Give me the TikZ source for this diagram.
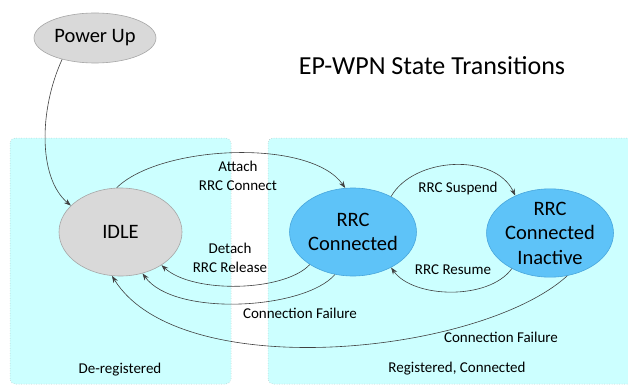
\documentclass[tikz,border=0pt]{standalone}
\usepackage{fontspec}
\setmainfont{Carlito}
\usetikzlibrary{arrows.meta,shapes.geometric}
\definecolor{zonefill}{HTML}{CCFFFF}
\definecolor{zoneline}{HTML}{A8B4B4}
\definecolor{idlefill}{HTML}{D9D9D9}
\definecolor{idleline}{HTML}{A6A6A6}
\definecolor{activefill}{HTML}{5EC3F8}
\definecolor{activeline}{HTML}{48A6DC}
\definecolor{wire}{HTML}{404040}
\begin{document}
\begin{tikzpicture}[x=1pt,y=-1pt,
  zone/.style={fill=zonefill,draw=zoneline,dotted,line width=0.5pt,rounded corners=5pt},
  state/.style={ellipse,minimum width=123pt,minimum height=88pt,inner sep=0pt,
    align=center,font=\fontsize{20.5}{24.5}\selectfont,line width=0.6pt},
  idlestate/.style={state,fill=idlefill,draw=idleline},
  activestate/.style={state,fill=activefill,draw=activeline},
  lbl/.style={align=center,font=\fontsize{15}{19}\selectfont,inner sep=0pt},
  conn/.style={draw=wire,line width=0.6pt,-{Stealth[length=7pt,width=5pt]}}]
\useasboundingbox (0,0) rectangle (628,385);
\fill[white] (0,0) rectangle (628,385);

% registration areas
\begin{scope}
  \clip (0,0) rectangle (628,385);
  \draw[zone] (10,138) rectangle (231,384);
  \draw[zone] (268,138) rectangle (650,384);
\end{scope}

% title
\node[font=\fontsize{26}{30}\selectfont,inner sep=0pt] (title) at (432,66) {EP-WPN State Transitions};

% states
\node[state,fill=idlefill,draw=idleline,minimum width=122pt,minimum height=50pt] (power) at (95,38) {Power Up};
\node[idlestate] (idle) at (120.5,232) {IDLE};
\node[activestate] (conn) at (353,232) {RRC\\Connected};
\node[activestate] (inact) at (550,233) {RRC\\Connected\\Inactive};

% transitions
\draw[conn] (power.213) .. controls +(-23,50) and +(-33,-28) .. (idle.152);
\draw[conn] (idle.95) .. controls (160,145) and (310,138) .. (conn.100);
\draw[conn] (conn.217) .. controls +(-25,27) and +(32,29) .. (idle.-39);
\draw[conn] (conn.-113) .. controls +(-30,35) and +(32,44) .. (idle.-62);
\draw[conn] (inact.-68) .. controls (480,355) and (180,385) .. (idle.-101);
\draw[conn] (conn.43) .. controls +(23,-40) and +(-20,-43) .. (inact.133);
\draw[conn] (inact.223) .. controls +(-23,32) and +(22,31) .. (conn.-43);

% transition labels
\node[lbl] (attach) at (238,175.5) {Attach\\RRC Connect};
\node[lbl] (detach) at (230,257.5) {Detach\\RRC Release};
\node[lbl] (fail1) at (300,313) {Connection Failure};
\node[lbl] (suspend) at (458,188) {RRC Suspend};
\node[lbl] (resume) at (453,270) {RRC Resume};
\node[lbl] (fail2) at (501,337) {Connection Failure};

% area labels
\node[lbl] (dereg) at (120,370) {De-registered};
\node[lbl] (reg) at (457,369) {Registered, Connected};
\end{tikzpicture}
\end{document}
